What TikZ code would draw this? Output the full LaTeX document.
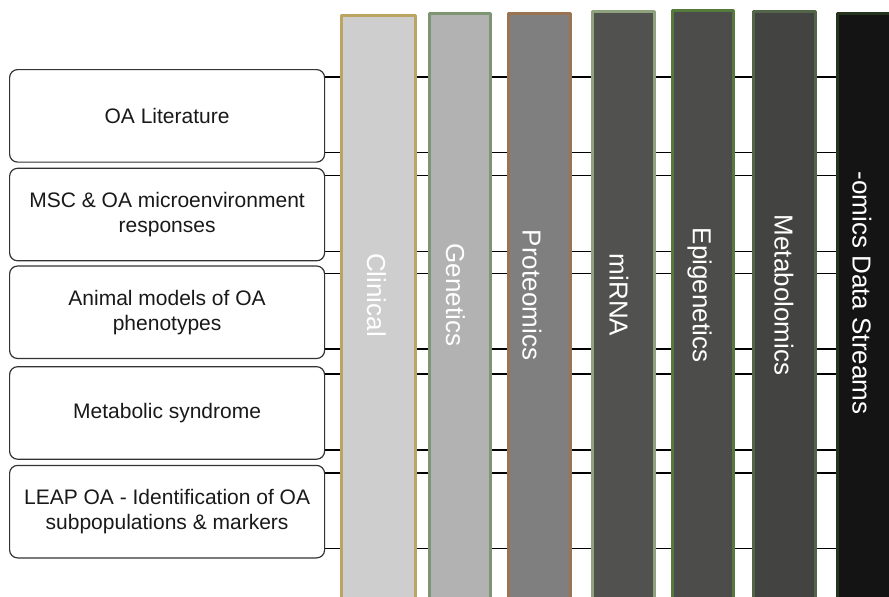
\documentclass[tikz,border=0pt]{standalone}
\usepackage{fontspec}
\setmainfont{Liberation Sans}
\usetikzlibrary{positioning,backgrounds}

% fill and border colours of the data streams
\definecolor{clinfill}{HTML}{CDCECD}  \definecolor{clinline}{HTML}{BCA462}
\definecolor{genfill}{HTML}{B1B2B1}   \definecolor{genline}{HTML}{7D9572}
\definecolor{protfill}{HTML}{7F7F7F}  \definecolor{protline}{HTML}{9A7352}
\definecolor{mirfill}{HTML}{51514F}   \definecolor{mirline}{HTML}{8EA27E}
\definecolor{epifill}{HTML}{4C4C4A}   \definecolor{epiline}{HTML}{557A3B}
\definecolor{metfill}{HTML}{434341}   \definecolor{metline}{HTML}{526548}
\definecolor{omicfill}{HTML}{141414}  \definecolor{omicline}{HTML}{26341F}

\begin{document}
\begin{tikzpicture}[x=1pt, y=-1pt, line join=round,
		srcbox/.style={draw=black!80, line width=1.2pt, rounded corners=8pt, fill=white,
			minimum width=315pt, minimum height=92.5pt, inner sep=0pt, align=center,
			text=black!90, font=\fontsize{21}{25}\selectfont},
		stream/.style={line width=3pt, anchor=north west, minimum height=620pt, inner sep=0pt},
		streamlabel/.style={rotate=-90, inner sep=0pt, text=white, font=\fontsize{26}{30}\selectfont},
		link/.style={black, line width=1.4pt}]
	% Page frame of the figure
	\useasboundingbox (0,0) rectangle (889,597);
	\clip (0,0) rectangle (889,597);
	
	% Knowledge sources on the left
	\node[srcbox, anchor=north west] (b1) at (9,69) {OA Literature};
	\node[srcbox, below=5pt of b1] (b2) {MSC \& OA microenvironment\\responses};
	\node[srcbox, below=4pt of b2] (b3) {Animal models of OA\\phenotypes};
	\node[srcbox, below=7pt of b3] (b4) {Metabolic syndrome};
	\node[srcbox, below=5pt of b4] (b5) {LEAP OA - Identification of OA\\subpopulations \& markers};
	
	% Data stream columns
	\node[stream, minimum width=74pt, fill=clinfill, draw=clinline] (clin) at (339.5,13.5) {};
	\node[stream, minimum width=61pt, fill=genfill, draw=genline] (gen) at (427.5,11.5) {};
	\node[stream, minimum width=62pt, fill=protfill, draw=protline] (prot) at (506.5,11.5) {};
	\node[stream, minimum width=62pt, fill=mirfill, draw=mirline] (mir) at (590.5,9.5) {};
	\node[stream, minimum width=61pt, fill=epifill, draw=epiline] (epi) at (670.5,8.5) {};
	\node[stream, minimum width=62pt, fill=metfill, draw=metline] (met) at (751.5,9.5) {};
	\node[stream, minimum width=80pt, fill=omicfill, draw=omicline] (omics) at (835.5,11.5) {};
	
	% Column labels, read top to bottom
	\coordinate (mid) at (0,295);
	\node[xshift=-1.5pt, streamlabel] (clinlbl) at (clin |- mid) {Clinical};
	\node[xshift=-4pt, streamlabel] (genlbl) at (gen |- mid) {Genetics};
	\node[xshift=-7pt, streamlabel] (protlbl) at (prot |- mid) {Proteomics};
	\node[xshift=-4pt, streamlabel] (mirlbl) at (mir |- mid) {miRNA};
	\node[xshift=-3pt, streamlabel] (epilbl) at (epi |- mid) {Epigenetics};
	\node[xshift=0pt, streamlabel] (metlbl) at (met |- mid) {Metabolomics};
	\node[streamlabel] (omicslbl) at (862,293) {-omics Data Streams};
	
	% Rules from every box, running behind the columns
	\begin{scope}[on background layer]
		\foreach \i in {1,...,5} {
			\coordinate (t\i) at ([yshift=-8pt]b\i.north east);
			\coordinate (u\i) at ([yshift=10pt]b\i.south east);
			\draw[link] (t\i) -- (t\i -| omics.west);
			\draw[link] (u\i) -- (u\i -| omics.west);
		}
	\end{scope}
\end{tikzpicture}
\end{document}
